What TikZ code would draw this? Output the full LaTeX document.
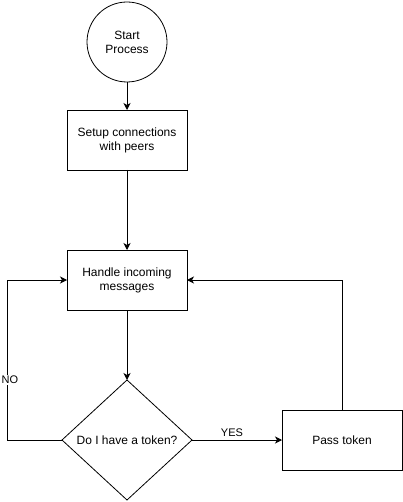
\documentclass[tikz,border=0pt]{standalone}
\usepackage{fontspec}
\setmainfont{Liberation Sans}
\usetikzlibrary{shapes.geometric,arrows.meta}
\begin{document}
\begin{tikzpicture}[x=1pt,y=-1pt,
  every node/.style={font=\fontsize{12}{14}\selectfont, inner sep=0pt, outer sep=0pt},
  boxnode/.style={draw, line width=0.8pt, minimum width=120pt, minimum height=60pt, align=center},
  conn/.style={line width=0.8pt, -{Stealth[length=7pt,width=7pt,inset=2pt]}},
  lbl/.style={font=\fontsize{11}{13}\selectfont, fill=white, inner sep=1pt}]
\useasboundingbox (0,0) rectangle (403,502);
\node[draw, circle, line width=0.8pt, minimum size=80pt, align=center] (start) at (127,42) {Start\\Process};
\node[boxnode] (setup) at (127,140) {Setup connections\\with peers};
\node[boxnode] (handle) at (127,280) {Handle incoming\\messages};
\node[draw, diamond, line width=0.8pt, minimum width=130pt, minimum height=120pt, aspect=1.083, align=center] (dec) at (127,440) {Do I have a token?};
\node[boxnode] (pass) at (342,440) {Pass token};
\coordinate (nl) at (7,440);
\coordinate (nu) at (7,280);
\coordinate (pu) at (342,280);
\draw[conn] (start) -- (setup);
\draw[conn] (setup) -- (handle);
\draw[conn] (handle) -- (dec);
\draw[conn] (dec.west) -- (nl) -- (nu) -- (handle.west);
\draw[conn] (dec.east) -- (pass.west);
\draw[conn] (pass.north) -- (pu) -- (handle.east);
\node[lbl] (no) at (10,380) {NO};
\node[lbl] (yes) at (232,433) {YES};
\end{tikzpicture}
\end{document}
